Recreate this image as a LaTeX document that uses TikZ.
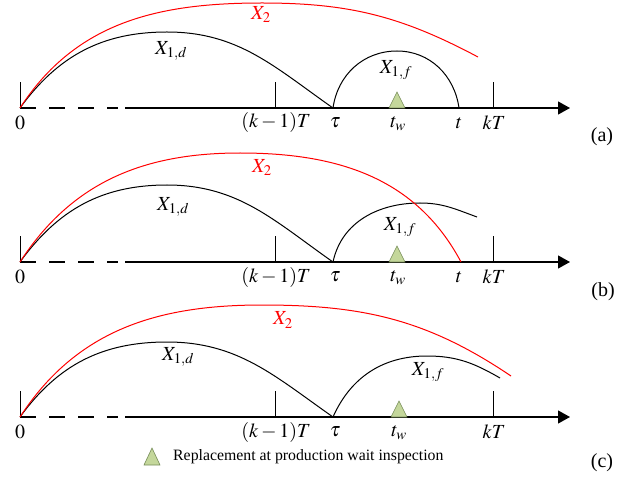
\documentclass[tikz,border=0pt]{standalone}
\usepackage{mathptmx}
\usepackage{fontspec}
\setmainfont{Liberation Serif}
\usetikzlibrary{arrows.meta}
\definecolor{waitgreen}{RGB}{196,215,155}
\definecolor{waitedge}{RGB}{118,140,88}

\begin{document}
\begin{tikzpicture}[x=1pt, y=1pt,
	axisline/.style={line width=1.2pt},
	curve/.style={line width=1pt},
	tick/.style={line width=1pt},
	lbl/.style={font=\fontsize{20}{24}\selectfont, inner sep=0pt},
	legendtext/.style={font=\fontsize{15.8}{19}\selectfont, inner sep=0pt},
	waitmark/.style={fill=waitgreen, draw=waitedge, line width=0.6pt}]
	\useasboundingbox (0,0) rectangle (636,477);

	% ---- panel (a): X_2 stops before kT
	\begin{scope}[yshift=369pt]
		\draw [axisline, dash pattern=on 16pt off 13pt] (20,0) -- (118,0);
		\draw [axisline, -{Triangle[length=12pt,width=13pt]}] (125,0) -- (570,0);
		\foreach \xt in {20,275,493} \draw [tick] (\xt,0) -- (\xt,26);
		% degradation X_{1,d} up to tau, then X_{1,f}
		\draw [curve] (20,0) to[out=54,in=180] (167,76) to[out=0,in=145] (333,0);
		\draw [curve] (333,0) to[out=82,in=180] (397,57) to[out=0,in=98] (459,0);
		\draw [curve, red] (20,0) to[out=57,in=180] (262,105) to[out=0,in=152] (478,51);
		\draw [waitmark] (389,0) -- (397,16) -- (405,0) -- cycle;
		\node [lbl] (zeroa) at (20,-15) {$0$};
		\node [lbl] (kmina) at (276,-15) {$(k-1)T$};
		\node [lbl] (taua) at (335,-15) {$\tau$};
		\node [lbl] (twa) at (398,-16) {$t_w$};
		\node [lbl] (ta) at (459,-15) {$t$};
		\node [lbl] (kTa) at (494,-15) {$kT$};
		\node [lbl] (xda) at (171,57) {$X_{1,d}$};
		\node [lbl] (xfa) at (396,38) {$X_{1,f}$};
		\node [lbl, red] (xtwoa) at (261,93) {$X_2$};
		\node [lbl] (capa) at (602,-29) {(a)};
	\end{scope}

	% ---- panel (b): X_2 reaches the axis at t
	\begin{scope}[yshift=215pt]
		\draw [axisline, dash pattern=on 16pt off 13pt] (20,0) -- (118,0);
		\draw [axisline, -{Triangle[length=12pt,width=13pt]}] (125,0) -- (570,0);
		\foreach \xt in {20,275,493} \draw [tick] (\xt,0) -- (\xt,26);
		\draw [curve] (20,0) to[out=54,in=180] (167,77) to[out=0,in=145] (333,0);
		\draw [curve] (333,0) to[out=78,in=180] (420,59) to[out=0,in=160] (477,45);
		\draw [curve, red] (20,0) to[out=57,in=180] (240,109) to[out=0,in=118] (461,0);
		\draw [waitmark] (389,0) -- (397,16) -- (405,0) -- cycle;
		\node [lbl] (zerob) at (20,-15) {$0$};
		\node [lbl] (kminb) at (276,-15) {$(k-1)T$};
		\node [lbl] (taub) at (335,-15) {$\tau$};
		\node [lbl] (twb) at (398,-16) {$t_w$};
		\node [lbl] (tb) at (459,-15) {$t$};
		\node [lbl] (kTb) at (494,-15) {$kT$};
		\node [lbl] (xdb) at (173,55) {$X_{1,d}$};
		\node [lbl] (xfb) at (400,35) {$X_{1,f}$};
		\node [lbl, red] (xtwob) at (262,94) {$X_2$};
		\node [lbl] (capb) at (603,-30) {(b)};
	\end{scope}

	% ---- panel (c): no failure before kT
	\begin{scope}[yshift=60pt]
		\draw [axisline, dash pattern=on 16pt off 13pt] (20,0) -- (118,0);
		\draw [axisline, -{Triangle[length=12pt,width=13pt]}] (125,0) -- (570,0);
		\foreach \xt in {20,275,493} \draw [tick] (\xt,0) -- (\xt,26);
		\draw [curve] (20,0) to[out=54,in=180] (167,75) to[out=0,in=145] (333,0);
		\draw [curve] (333,0) to[out=66,in=180] (427,61) to[out=0,in=150] (500,39);
		\draw [curve, red] (20,0) to[out=57,in=180] (262,112) to[out=0,in=146] (511,41);
		\draw [waitmark] (391,0) -- (399,16) -- (407,0) -- cycle;
		\node [lbl] (zeroc) at (20,-15) {$0$};
		\node [lbl] (kminc) at (276,-15) {$(k-1)T$};
		\node [lbl] (tauc) at (335,-15) {$\tau$};
		\node [lbl] (twc) at (399,-16) {$t_w$};
		\node [lbl] (kTc) at (494,-15) {$kT$};
		\node [lbl] (xdc) at (178,60) {$X_{1,d}$};
		\node [lbl] (xfc) at (428,45) {$X_{1,f}$};
		\node [lbl, red] (xtwoc) at (283,97) {$X_2$};
		\node [lbl] (capc) at (602,-46) {(c)};
		% legend
		\draw [waitmark] (144,-48) -- (152,-31) -- (160,-48) -- cycle;
		\node [legendtext, anchor=west] (legend) at (173,-40) {Replacement at production wait inspection};
	\end{scope}
\end{tikzpicture}
\end{document}
